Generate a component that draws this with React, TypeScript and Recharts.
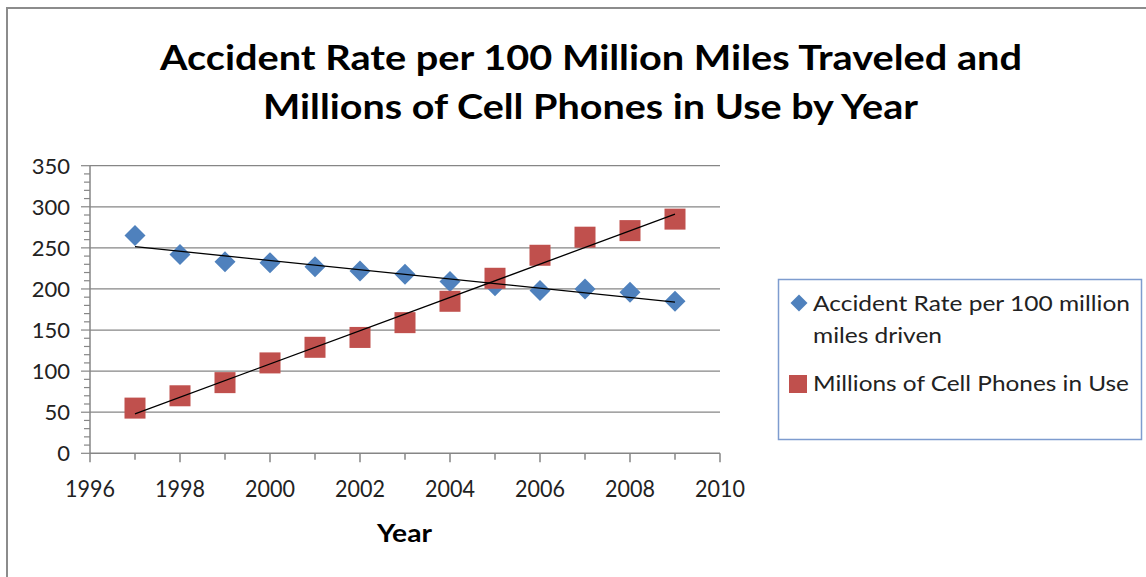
import React from "react";
import { ScatterChart, Scatter, XAxis, YAxis, ReferenceLine } from "recharts";

const years = [1997, 1998, 1999, 2000, 2001, 2002, 2003, 2004, 2005, 2006, 2007, 2008, 2009];
const accidentRate = [265, 242, 233, 232, 227, 222, 218, 209, 204, 198, 200, 196, 185];
const cellPhones = [55, 70, 86, 110, 129, 141, 159, 185, 213, 241, 263, 271, 285];
const trendYears = [1997, 2009];
const accidentTrend = [251.5, 184];
const phonesTrend = [48, 291];
const xTicks = [1996, 1997, 1998, 1999, 2000, 2001, 2002, 2003, 2004, 2005, 2006, 2007, 2008, 2009, 2010];
const yTicks = [0, 10, 20, 30, 40, 50, 60, 70, 80, 90, 100, 110, 120, 130, 140, 150, 160, 170, 180, 190, 200, 210, 220, 230, 240, 250, 260, 270, 280, 290, 300, 310, 320, 330, 340, 350];
const yGrid = [50, 100, 150, 200, 250, 300, 350];

const titleLines = ["Accident Rate per 100 Million Miles Traveled and", "Millions of Cell Phones in Use by Year"];
const legendLines = ["Accident Rate per 100 million", "miles driven", "Millions of Cell Phones in Use"];
const xTitle = "Year";

const BLUE = "#4F81BD";
const RED = "#C0504D";
const AXIS = "#868686";
const FONT = "Lato, 'Open Sans', sans-serif";

const accidentData = years.map((x, i) => ({ x, y: accidentRate[i] }));
const phoneData = years.map((x, i) => ({ x, y: cellPhones[i] }));
const accidentTrendData = trendYears.map((x, i) => ({ x, y: accidentTrend[i] }));
const phoneTrendData = trendYears.map((x, i) => ({ x, y: phonesTrend[i] }));

const Diamond = (p: any) => {
  const { cx, cy } = p;
  const r = 10.5;
  return <path d={`M${cx},${cy - r}L${cx + r},${cy}L${cx},${cy + r}L${cx - r},${cy}Z`} fill={BLUE} />;
};
const Square = (p: any) => {
  const { cx, cy } = p;
  const r = 10.5;
  return <rect x={cx - r} y={cy - r} width={2 * r} height={2 * r} fill={RED} />;
};
const NoShape = () => <g />;

const XTick = (p: any) => {
  const { x, y, payload } = p;
  const v = payload.value;
  const major = v % 2 === 0;
  return (
    <g>
      <line x1={x} y1={y} x2={x} y2={y + (major ? 9 : 6.5)} stroke={AXIS} strokeWidth={1.5} />
      {major && (
        <text x={x} y={y + 43.5} textAnchor="middle" fontFamily={FONT} fontSize={23} fill="#222" textLength={50} lengthAdjust="spacingAndGlyphs">
          {v}
        </text>
      )}
    </g>
  );
};

const YTick = (p: any) => {
  const { x, y, payload } = p;
  const v = payload.value;
  const major = v % 50 === 0;
  return (
    <g>
      <line x1={major ? x - 9 : x - 6} y1={y} x2={x} y2={y} stroke={AXIS} strokeWidth={1.2} />
      {major && (
        <text x={x - 20} y={y} dy="0.36em" textAnchor="end" fontFamily={FONT} fontSize={22} fill="#222">
          {v}
        </text>
      )}
    </g>
  );
};

export default function App() {
  return (
    <div style={{ position: "absolute", left: 0, top: 0, width: 1146, height: 577, overflow: "hidden", background: "#fff" }}>
      <div style={{ position: "absolute", left: 6, top: 7, width: 1160, height: 600, border: "2px solid #8C8C8C", boxSizing: "border-box" }} />
      <div style={{ position: "absolute", left: 0, top: 0 }}>
        <ScatterChart width={1146} height={577} margin={{ top: 165.7, right: 426, bottom: 93.7, left: 0 }}>
          <XAxis
            type="number"
            dataKey="x"
            domain={[1996, 2010]}
            ticks={xTicks}
            interval={0}
            allowDataOverflow
            tick={<XTick />}
            tickLine={false}
            tickSize={0}
            tickMargin={0}
            axisLine={{ stroke: AXIS, strokeWidth: 1.5 }}
            height={30}
          />
          <YAxis
            type="number"
            dataKey="y"
            domain={[0, 350]}
            ticks={yTicks}
            interval={0}
            allowDataOverflow
            tick={<YTick />}
            tickLine={false}
            tickSize={0}
            tickMargin={0}
            axisLine={{ stroke: AXIS, strokeWidth: 1.5 }}
            width={90}
          />
          {yGrid.map((v) => (
            <ReferenceLine key={v} y={v} stroke={AXIS} strokeWidth={1.2} />
          ))}
          <Scatter name={legendLines[0]} data={accidentData} shape={<Diamond />} isAnimationActive={false} />
          <Scatter name={legendLines[2]} data={phoneData} shape={<Square />} isAnimationActive={false} />
          <Scatter data={accidentTrendData} line={{ stroke: "#000", strokeWidth: 1.3 }} shape={<NoShape />} legendType="none" isAnimationActive={false} />
          <Scatter data={phoneTrendData} line={{ stroke: "#000", strokeWidth: 1.3 }} shape={<NoShape />} legendType="none" isAnimationActive={false} />
        </ScatterChart>
      </div>
      <svg width={1146} height={577} style={{ position: "absolute", left: 0, top: 0, pointerEvents: "none" }}>
        <g fontFamily={FONT} fontWeight={700} fontSize={35} fill="#000">
          <text x={160} y={70} textLength={862} lengthAdjust="spacingAndGlyphs">{titleLines[0]}</text>
          <text x={263} y={119} textLength={655} lengthAdjust="spacingAndGlyphs">{titleLines[1]}</text>
        </g>
        <text x={377} y={542} fontFamily={FONT} fontWeight={700} fontSize={25} fill="#000" textLength={55} lengthAdjust="spacingAndGlyphs">
          {xTitle}
        </text>
        <rect x={778.5} y={279.5} width={363} height={160} fill="#fff" stroke="#7E9CCF" strokeWidth={1.5} />
        <path d="M799,294.5L807.5,303L799,311.5L790.5,303Z" fill={BLUE} />
        <rect x={789} y={375} width={18} height={18} fill={RED} />
        <g fontFamily={FONT} fontSize={21} fill="#222">
          <text x={813} y={311} textLength={317} lengthAdjust="spacingAndGlyphs">{legendLines[0]}</text>
          <text x={813} y={343} textLength={129} lengthAdjust="spacingAndGlyphs">{legendLines[1]}</text>
          <text x={813} y={391} textLength={316} lengthAdjust="spacingAndGlyphs">{legendLines[2]}</text>
        </g>
      </svg>
    </div>
  );
}
